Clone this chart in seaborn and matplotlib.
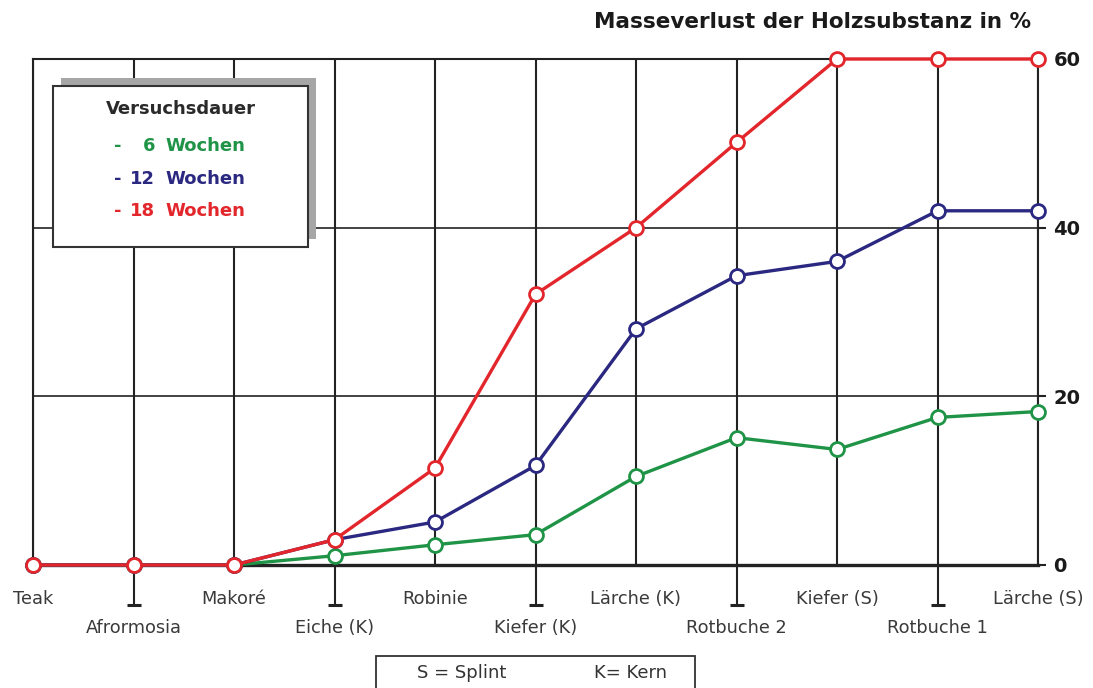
import matplotlib
matplotlib.use("Agg")
import matplotlib.pyplot as plt
import matplotlib.patches as mpatches
import seaborn as sns
import pandas as pd

# Holzarten (S = Splint, K = Kern)
holzarten = ["Teak", "Afrormosia", "Makoré", "Eiche (K)", "Robinie", "Kiefer (K)",
             "Lärche (K)", "Rotbuche 2", "Kiefer (S)", "Rotbuche 1", "Lärche (S)"]

# Masseverlust in % je Versuchsdauer
wochen_6 = [0, 0, 0, 1.1, 2.4, 3.6, 10.5, 15.1, 13.7, 17.5, 18.2]
wochen_12 = [0, 0, 0, 3.0, 5.1, 11.8, 28.0, 34.3, 36.0, 42.0, 42.0]
wochen_18 = [0, 0, 0, 3.0, 11.5, 32.1, 40.0, 50.1, 60.0, 60.0, 60.0]

serien = ["6 Wochen", "12 Wochen", "18 Wochen"]
farben = {"6 Wochen": "#1f9447", "12 Wochen": "#2a2880", "18 Wochen": "#e2262b"}
y_ticks = [0, 20, 40, 60]

df = pd.DataFrame({
    "pos": list(range(len(holzarten))) * 3,
    "verlust": wochen_6 + wochen_12 + wochen_18,
    "dauer": [s for s in serien for _ in holzarten],
})

sns.set_theme(style="white")
plt.rcParams["font.family"] = ["DejaVu Sans"]

W, H = 1093, 688
fig = plt.figure(figsize=(W / 100, H / 100), dpi=100)
ax = fig.add_axes([33 / W, 123 / H, 1005 / W, 506 / H])

grid_col = "#222222"
label_col = "#3a3a3a"
for dauer in serien:
    sns.lineplot(data=df[df["dauer"] == dauer], x="pos", y="verlust", ax=ax,
                 color=farben[dauer], linewidth=2.4, marker="o", markersize=10,
                 markerfacecolor="white", markeredgecolor=farben[dauer],
                 markeredgewidth=2.0, zorder=5, clip_on=False, legend=False)

ax.set_xlim(0, len(holzarten) - 1)
ax.set_ylim(0, 60)
ax.set_xlabel("")
ax.set_ylabel("")

# x-Beschriftung in zwei Reihen
major = list(range(0, len(holzarten), 2))
minor = list(range(1, len(holzarten), 2))
ax.set_xticks(major)
ax.set_xticklabels([holzarten[i] for i in major])
ax.set_xticks(minor, minor=True)
ax.set_xticklabels([holzarten[i] for i in minor], minor=True)
ax.tick_params(axis="x", which="major", length=0, pad=18, labelsize=12.8,
               labelcolor=label_col)
ax.tick_params(axis="x", which="minor", bottom=True, length=30, width=1.5,
               color=grid_col, direction="out", pad=9, labelsize=12.8,
               labelcolor=label_col)
# Querbalken am Ende der langen Striche
ax.plot(minor, [-0.079] * len(minor), transform=ax.get_xaxis_transform(),
        linestyle="none", marker="_", markersize=10, markeredgewidth=2.2,
        color=grid_col, clip_on=False)

# y-Achse rechts
ax.set_yticks(y_ticks)
ax.yaxis.tick_right()
ax.tick_params(axis="y", length=6, width=1.5, color=grid_col, pad=5,
               labelsize=14, labelcolor="#1a1a1a")
for lbl in ax.get_yticklabels():
    lbl.set_fontweight("bold")

ax.grid(True, which="both", axis="x", color=grid_col, linewidth=1.5)
ax.grid(True, which="major", axis="y", color=grid_col, linewidth=1.2)
for side, sp in ax.spines.items():
    sp.set_visible(True)
    sp.set_color(grid_col)
    sp.set_linewidth(1.5)
ax.spines["bottom"].set_linewidth(2.4)
ax.set_axisbelow(True)

fig.text(1031 / W, 1 - 22 / H, "Masseverlust der Holzsubstanz in %",
         ha="right", va="center", fontsize=15.5, fontweight="bold", color="#1a1a1a")

# Legendenkasten mit Schatten
shadow = mpatches.Rectangle((61 / W, 1 - 239 / H), 255 / W, 161 / H,
                            transform=fig.transFigure, facecolor="#a6a6a6",
                            edgecolor="none", zorder=10)
box = mpatches.Rectangle((53 / W, 1 - 247 / H), 255 / W, 161 / H,
                         transform=fig.transFigure, facecolor="white",
                         edgecolor="#333333", linewidth=1.5, zorder=11)
fig.patches.extend([shadow, box])
fig.text(181 / W, 1 - 109 / H, "Versuchsdauer", ha="center", va="center",
         fontsize=13, fontweight="bold", color="#2a2a2a", zorder=12)
for i, dauer in enumerate(serien):
    yy = 1 - (146 + i * 32.5) / H
    zahl = dauer.split()[0]
    fig.text(118 / W, yy, "-", ha="center", va="center", fontsize=13,
             fontweight="bold", color=farben[dauer], zorder=12)
    fig.text(155 / W, yy, zahl, ha="right", va="center", fontsize=13,
             fontweight="bold", color=farben[dauer], zorder=12)
    fig.text(165 / W, yy, "Wochen", ha="left", va="center", fontsize=13,
             fontweight="bold", color=farben[dauer], zorder=12)

# Abkürzungskasten unten
kasten = mpatches.Rectangle((376 / W, 1 - 700 / H), 319 / W, 44 / H,
                            transform=fig.transFigure, facecolor="white",
                            edgecolor="#333333", linewidth=1.3, zorder=10)
fig.patches.append(kasten)
fig.text(462 / W, 1 - 673 / H, "S = Splint", ha="center", va="center",
         fontsize=13, color="#333333", zorder=12)
fig.text(631 / W, 1 - 673 / H, "K= Kern", ha="center", va="center",
         fontsize=13, color="#333333", zorder=12)

fig.savefig("out.png", dpi=100, facecolor="white")
